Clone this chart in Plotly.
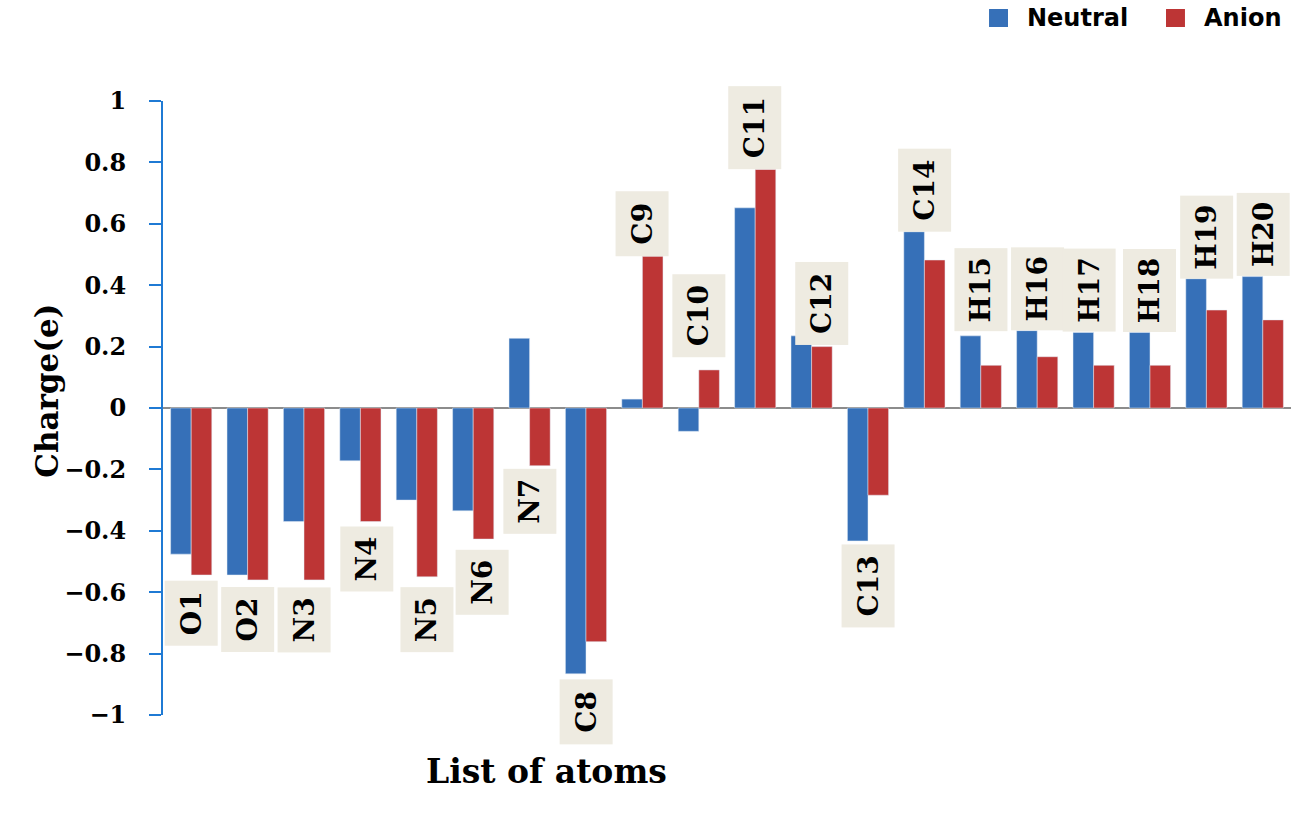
import plotly.graph_objects as go

# charges
atoms = ["O1", "O2", "N3", "N4", "N5", "N6", "N7", "C8", "C9", "C10",
         "C11", "C12", "C13", "C14", "H15", "H16", "H17", "H18", "H19", "H20"]
neutral = [-0.476, -0.544, -0.370, -0.172, -0.300, -0.335, 0.227, -0.866, 0.029, -0.076,
           0.652, 0.235, -0.433, 0.574, 0.235, 0.252, 0.246, 0.246, 0.421, 0.428]
anion = [-0.544, -0.560, -0.560, -0.370, -0.550, -0.427, -0.188, -0.761, 0.494, 0.124,
         0.777, 0.200, -0.284, 0.482, 0.139, 0.167, 0.139, 0.139, 0.319, 0.287]

BLUE = "#3670b8"
RED = "#bd3535"
AXIS_BLUE = "#1f7ad4"
BOX = "#eeebe1"

# small nudges for the label boxes (pixels)
label_gap = {"O1": 5, "O2": 7, "N3": 7, "N4": 4, "N5": 10, "N6": 10, "N7": 3, "C8": 5,
             "C10": 12, "C12": -10, "C13": 3, "H15": 4}
label_dx = {"N4": 6, "N5": 10, "N6": 9, "C12": 10, "H17": -4}

fig = go.Figure()
fig.add_trace(go.Bar(x=atoms, y=neutral, name="Neutral", marker_color=BLUE))
fig.add_trace(go.Bar(x=atoms, y=anion, name="Anion", marker_color=RED))

for a, n, an in zip(atoms, neutral, anion):
    below = an < 0
    val = min(n, an) if below else max(n, an)
    gap = label_gap.get(a, 0)
    fig.add_annotation(
        x=a, y=val, xref="x", yref="y", text=a, showarrow=False,
        textangle=-90, bgcolor=BOX, borderpad=0,
        width=64 if len(a) == 2 else 82, height=52,
        yanchor="top" if below else "bottom",
        yshift=-gap if below else gap, xshift=label_dx.get(a, 0),
        font=dict(family="DejaVu Serif", size=28, weight="bold", color="black"),
    )

fig.add_annotation(x=-0.1206, y=0.528, xref="paper", yref="paper", text="Charge(e)",
                   showarrow=False, textangle=-90,
                   font=dict(family="DejaVu Serif", size=31, weight="bold", color="black"))
fig.add_annotation(x=0.3404, y=-0.127, xref="paper", yref="paper", text="List of atoms",
                   showarrow=False,
                   font=dict(family="DejaVu Serif", size=33, weight="bold", color="black"))

# legend drawn by hand so it stays in the top margin
legend_font = dict(family="DejaVu Sans", size=24, weight="bold", color="black")
for name, color, x0 in [("Neutral", BLUE, 0.7323), ("Anion", RED, 0.8892)]:
    fig.add_shape(type="rect", xref="paper", yref="paper", x0=x0, x1=x0 + 0.0168,
                  y0=1.1205, y1=1.1498, fillcolor=color, line_width=0)
    fig.add_annotation(x=x0 + 0.0319, y=1.1352, xref="paper", yref="paper", text=name,
                       showarrow=False, xanchor="left", yanchor="middle", font=legend_font)

fig.update_layout(
    width=1299, height=818,
    margin=dict(l=163, r=8, t=101, b=103),
    plot_bgcolor="white", paper_bgcolor="white",
    barmode="group", bargap=0.27, bargroupgap=0,
    showlegend=False,
    xaxis=dict(showticklabels=False, showgrid=False, zeroline=False, showline=False,
               range=[-0.5, 19.5]),
    yaxis=dict(range=[-1, 1], dtick=0.2, tick0=0, showgrid=False,
               zeroline=True, zerolinecolor="#8c8c8c", zerolinewidth=2,
               showline=True, linecolor=AXIS_BLUE, linewidth=2,
               ticks="outside", ticklen=12, tickcolor=AXIS_BLUE, tickwidth=2,
               ticklabelstandoff=18,
               tickfont=dict(family="DejaVu Serif", size=24, weight="bold", color="black")),
)

fig.write_html("out.html", config={"displayModeBar": False},
               post_script="document.body.style.margin = '0';")
